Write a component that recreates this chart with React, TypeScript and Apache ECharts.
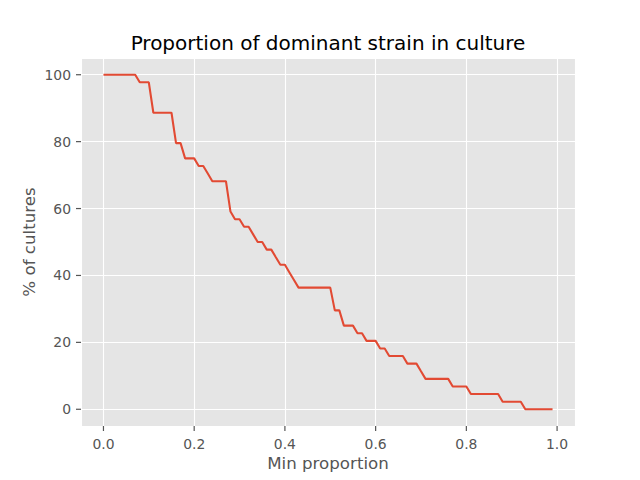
import React, { useEffect, useRef } from "react";
import * as echarts from "echarts";

const minProportion: number[] = [
  0.0, 0.01, 0.02, 0.03, 0.04, 0.05, 0.06, 0.07, 0.08, 0.09,
  0.1, 0.11, 0.12, 0.13, 0.14, 0.15, 0.16, 0.17, 0.18, 0.19,
  0.2, 0.21, 0.22, 0.23, 0.24, 0.25, 0.26, 0.27, 0.28, 0.29,
  0.3, 0.31, 0.32, 0.33, 0.34, 0.35, 0.36, 0.37, 0.38, 0.39,
  0.4, 0.41, 0.42, 0.43, 0.44, 0.45, 0.46, 0.47, 0.48, 0.49,
  0.5, 0.51, 0.52, 0.53, 0.54, 0.55, 0.56, 0.57, 0.58, 0.59,
  0.6, 0.61, 0.62, 0.63, 0.64, 0.65, 0.66, 0.67, 0.68, 0.69,
  0.7, 0.71, 0.72, 0.73, 0.74, 0.75, 0.76, 0.77, 0.78, 0.79,
  0.8, 0.81, 0.82, 0.83, 0.84, 0.85, 0.86, 0.87, 0.88, 0.89,
  0.9, 0.91, 0.92, 0.93, 0.94, 0.95, 0.96, 0.97, 0.98, 0.99,
];

const pctCultures: number[] = [
  100, 100, 100, 100, 100, 100, 100, 100, 97.73, 97.73,
  97.73, 88.64, 88.64, 88.64, 88.64, 88.64, 79.55, 79.55, 75, 75,
  75, 72.73, 72.73, 70.45, 68.18, 68.18, 68.18, 68.18, 59.09, 56.82,
  56.82, 54.55, 54.55, 52.27, 50, 50, 47.73, 47.73, 45.45, 43.18,
  43.18, 40.91, 38.64, 36.36, 36.36, 36.36, 36.36, 36.36, 36.36, 36.36,
  36.36, 29.55, 29.55, 25, 25, 25, 22.73, 22.73, 20.45, 20.45,
  20.45, 18.18, 18.18, 15.91, 15.91, 15.91, 15.91, 13.64, 13.64, 13.64,
  11.36, 9.09, 9.09, 9.09, 9.09, 9.09, 9.09, 6.82, 6.82, 6.82,
  6.82, 4.55, 4.55, 4.55, 4.55, 4.55, 4.55, 4.55, 2.27, 2.27,
  2.27, 2.27, 2.27, 0, 0, 0, 0, 0, 0, 0,
];

const xTicks: number[] = [0, 0.2, 0.4, 0.6, 0.8, 1.0];
const yTicks: number[] = [0, 20, 40, 60, 80, 100];

const titleText = "Proportion of dominant strain in culture";
const xLabel = "Min proportion";
const yLabel = "% of cultures";

const FONT = "DejaVu Sans";
const GREY = "#555555";
const X_MIN = -0.0495;
const X_MAX = 1.0395;
const Y_MIN = -5;
const Y_MAX = 105;
const TICK_LEN = 5;

export default function App() {
  const ref = useRef<HTMLDivElement>(null);
  useEffect(() => {
    document.body.style.margin = "0";
    if (!ref.current) return;
    const chart = echarts.init(ref.current, undefined, { renderer: "svg" });
    const data = minProportion.map((x, i) => [x, pctCultures[i]]);
    const xTickData = xTicks.map((v) => [v, Y_MIN]);
    const yTickData = yTicks.map((v) => [X_MIN, v]);

    chart.setOption({
      animation: false,
      backgroundColor: "#ffffff",
      grid: {
        left: 81,
        top: 58,
        width: 494,
        height: 368,
        show: true,
        backgroundColor: "#E5E5E5",
        borderWidth: 0,
      },
      xAxis: {
        type: "value",
        position: "bottom",
        min: X_MIN,
        max: X_MAX,
        axisLine: { show: false, onZero: false },
        axisTick: { show: false },
        axisLabel: {
          customValues: xTicks,
          margin: 11,
          color: GREY,
          fontFamily: FONT,
          fontSize: 13.9,
          formatter: (v: number) => v.toFixed(1),
        },
        splitLine: { show: true, lineStyle: { color: "#ffffff", width: 1.1 } },
      },
      yAxis: {
        type: "value",
        position: "left",
        min: Y_MIN,
        max: Y_MAX,
        axisLine: { show: false, onZero: false },
        axisTick: { show: false },
        axisLabel: {
          customValues: yTicks,
          margin: 10,
          color: GREY,
          fontFamily: FONT,
          fontSize: 13.9,
          formatter: (v: number) => String(Math.round(v)),
        },
        splitLine: { show: true, lineStyle: { color: "#ffffff", width: 1.1 } },
      },
      series: [
        {
          type: "line",
          data,
          showSymbol: false,
          symbol: "none",
          lineStyle: { color: "#E24A33", width: 2.08 },
          itemStyle: { color: "#E24A33" },
        },
        {
          type: "custom",
          clip: false,
          silent: true,
          z: 10,
          data: xTickData,
          renderItem: (_params: any, api: any) => {
            const p = api.coord([api.value(0), api.value(1)]);
            return {
              type: "rect",
              shape: { x: p[0] - 0.6, y: p[1], width: 1.2, height: TICK_LEN },
              style: { fill: GREY },
            };
          },
        },
        {
          type: "custom",
          clip: false,
          silent: true,
          z: 10,
          data: yTickData,
          renderItem: (_params: any, api: any) => {
            const p = api.coord([api.value(0), api.value(1)]);
            return {
              type: "rect",
              shape: { x: p[0] - TICK_LEN, y: p[1] - 0.6, width: TICK_LEN, height: 1.2 },
              style: { fill: GREY },
            };
          },
        },
      ],
      graphic: [
        {
          type: "text",
          x: 328,
          y: 43,
          style: {
            text: titleText,
            fill: "#000000",
            font: `20px "${FONT}"`,
            textAlign: "center",
            textVerticalAlign: "middle",
          },
        },
        {
          type: "text",
          x: 328,
          y: 463.5,
          style: {
            text: xLabel,
            fill: GREY,
            font: `16.67px "${FONT}"`,
            textAlign: "center",
            textVerticalAlign: "middle",
          },
        },
        {
          type: "text",
          x: 29,
          y: 242,
          rotation: Math.PI / 2,
          style: {
            text: yLabel,
            fill: GREY,
            font: `16.67px "${FONT}"`,
            textAlign: "center",
            textVerticalAlign: "middle",
          },
        },
      ],
    });
    return () => chart.dispose();
  }, []);
  return <div ref={ref} style={{ width: 640, height: 480 }} />;
}
